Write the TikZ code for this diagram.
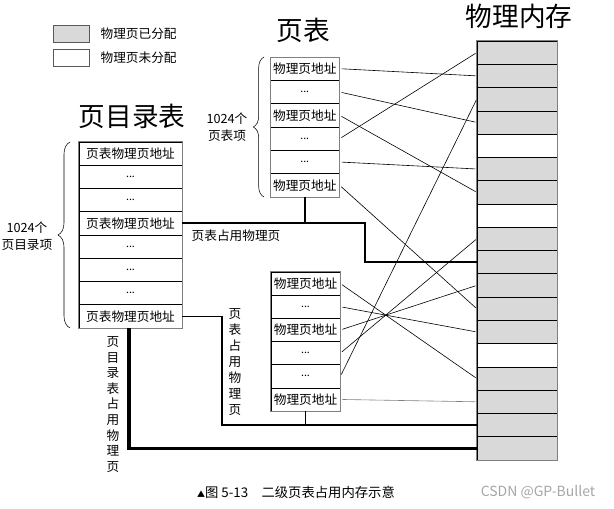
\documentclass[tikz,border=0pt]{standalone}
\usepackage{fontspec}
\setmainfont{Noto Sans CJK SC}
\usetikzlibrary{positioning,decorations.pathreplacing}
\newcommand{\cellfont}{\fontsize{9.5}{11}\selectfont}
\newcommand{\titlefont}{\fontsize{20}{24}\selectfont}
\newcommand{\etc}{{\footnotesize ...}}

\begin{document}
\begin{tikzpicture}
[x=0.75pt,y=-0.75pt,
 cell/.style={draw,minimum height=17.45pt,inner sep=0pt,font=\cellfont},
 dcell/.style={cell,minimum width=77.25pt},
 pcell/.style={cell,minimum width=52pt},
 mcell/.style={draw,minimum width=60pt,minimum height=17.46pt,inner sep=0pt},
 used/.style={fill=gray!30},
 free/.style={fill=white},
 legbox/.style={draw=gray!70!black,minimum width=27pt,minimum height=12.75pt},
 link/.style={line width=0.45pt,shorten <=1.5pt,shorten >=1pt},
 occ/.style={line width=1.5pt},
 title/.style={font=\titlefont}]

\useasboundingbox (0,0) rectangle (614,509);

\node[legbox,used] (lgA) at (71,33.5) {};
\node[legbox,free] (lgB) at (71,57.5) {};
\node[right=5pt of lgA,font=\cellfont] (lgAt) {物理页已分配};
\node[right=5pt of lgB,font=\cellfont] (lgBt) {物理页未分配};

\node[title] (tdir) at (132,116) {页目录表};
\node[title] (tpt) at (303,30) {页表};
\node[title] (tmem) at (519,16) {物理内存};

\foreach \t [count=\i from 0] in {页表物理页地址,\etc,\etc,页表物理页地址,\etc,\etc,\etc,页表物理页地址}
  \node[dcell] (d\i) at (130.5,153.6+23.25*\i) {\t};
\draw[gray] (d0.north west) rectangle (d7.south east);

\foreach \t [count=\i from 0] in {物理页地址,\etc,物理页地址,\etc,\etc,物理页地址}
{
  \node[pcell] (pa\i) at (304.75,68.7+23.33*\i) {\t};
  \node[pcell] (pb\i) at (305.5,283.6+23.17*\i) {\t};
}
\draw[gray] (pa0.north west) rectangle (pa5.south east);
\draw[gray] (pb0.north west) rectangle (pb5.south east);

\foreach \s [count=\i from 0] in {used,used,used,used,free,used,used,free,used,used,used,used,used,free,used,used,used,used}
  \node[mcell,\s] (m\i) at (517,52.6+23.28*\i) {};
\draw[gray] (m0.north west) rectangle (m17.south east);

\draw[decorate,decoration={brace,amplitude=9pt}] (70,328) -- (70,142);
\draw[decorate,decoration={brace,amplitude=8pt}] (264,197) -- (264,57);
\node[font=\fontsize{9.5}{12.75}\selectfont,align=center] (ldir) at (27,236.5) {1024个\\页目录项};
\node[font=\fontsize{9.5}{12.75}\selectfont,align=center] (lpa) at (227,127) {1024个\\页表项};

\foreach \a/\b in {0/1,1/3,2/6,3/0,4/5,5/11}
  \draw[link] (pa\a.east) -- (m\b.west);
\foreach \a/\b in {0/14,1/12,2/10,3/8,4/2}
  \draw[link] (pb\a.east) -- (m\b.west);
\draw[link,gray] (pb5.east) -- (m15.west);

\coordinate (k1) at (365,0);
\coordinate (k2) at (222,0);
\coordinate (k3) at (129,0);
\draw[occ] (pa5.south) |- (d3.east);
\draw[occ] (pa5.south |- d3.east) -| (k1 |- m9.west) -- (m9.west);
\draw[line width=1pt] (d7.east) -| (k2 |- m16.west) -- (m16.west);
\draw[line width=1pt] (pb5.south) -- (pb5.south |- m16.west);
\draw[line width=2.5pt] (k3 |- d7.south) |- (m17.west);

\node[font=\cellfont] (lpt) at (236,236) {页表占用物理页};
\node[font=\fontsize{9.5}{12}\selectfont,align=center] (lpb) at (235,362) {页\\表\\占\\用\\物\\理\\页};
\node[font=\fontsize{9.5}{11.7}\selectfont,align=center] (ldo) at (113,404.5) {页\\目\\录\\表\\占\\用\\物\\理\\页};

\node[font=\fontsize{10}{12}\selectfont] (cap) at (296,492) {{\fontsize{6}{6}\selectfont ▲}图 5-13\quad 二级页表占用内存示意};
\node[font=\fontsize{10.5}{12}\selectfont,text=gray!70] (wm) at (538,492) {CSDN @GP-Bullet};
\end{tikzpicture}
\end{document}
